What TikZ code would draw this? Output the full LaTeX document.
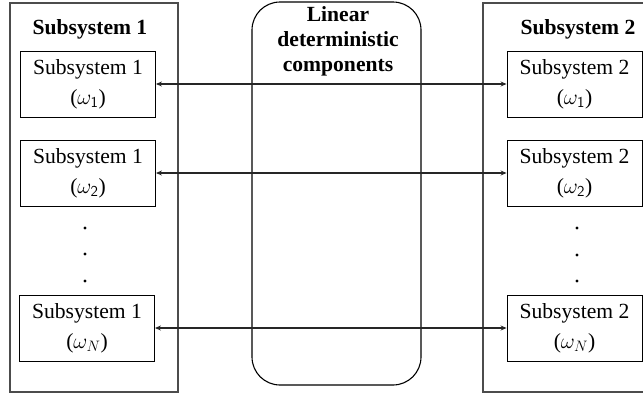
\RequirePackage{fix-cm}
\documentclass[tikz,border=0pt]{standalone}
\usepackage{fontspec}
\setmainfont{Liberation Serif}
\usetikzlibrary{arrows.meta}
\begin{document}
\begin{tikzpicture}[x=1pt,y=-1pt,
  frame/.style={draw=black!70, line width=1.1pt, inner sep=0pt},
  ctr/.style={draw=black, line width=1.1pt, inner sep=0pt, rounded corners=28pt},
  inner/.style={draw=black, line width=0.9pt, minimum width=135pt, minimum height=66pt, align=center, inner sep=0pt, font=\fontsize{21.6}{30}\selectfont},
  ttl/.style={font=\fontsize{21.6}{25}\selectfont\bfseries, align=center},
  link/.style={draw=black!85, line width=1.2pt, {Stealth[length=6pt,width=5pt]}-{Stealth[length=6pt,width=5pt]}},
  dotmark/.style={circle, fill=black, inner sep=0pt, minimum size=3.2pt}]
\useasboundingbox (0,0) rectangle (643,394);
\node[frame, minimum width=168pt, minimum height=389pt] (s1) at (94,197.5) {};
\node[frame, minimum width=167pt, minimum height=389pt] (s2) at (566.5,197.5) {};
\node[ctr, minimum width=169pt, minimum height=383pt] (lin) at (336.5,193.5) {};
\node[ttl] (t1) at (90,29) {Subsystem 1};
\node[ttl] (t2) at (578,29) {Subsystem 2};
\node[ttl] (lt) at (338,41) {Linear\\deterministic\\components};
\node[inner] (a1) at (88,84) {Subsystem 1\\($\omega_{\mathsf{1}}$)};
\node[inner] (a2) at (88,173) {Subsystem 1\\($\omega_{\mathsf{2}}$)};
\node[inner] (aN) at (87,328) {Subsystem 1\\($\omega_{N}$)};
\node[inner] (b1) at (574.5,84) {Subsystem 2\\($\omega_{\mathsf{1}}$)};
\node[inner] (b2) at (574.5,173) {Subsystem 2\\($\omega_{\mathsf{2}}$)};
\node[inner] (bN) at (574.5,328) {Subsystem 2\\($\omega_{N}$)};
\node[dotmark] (da1) at (85,228) {};
\node[dotmark] (da2) at (85,254) {};
\node[dotmark] (da3) at (85,281) {};
\node[dotmark] (db1) at (577,228) {};
\node[dotmark] (db2) at (577,255) {};
\node[dotmark] (db3) at (577,281) {};
\draw[link] (a1.east) -- (b1.west);
\draw[link] (a2.east) -- (b2.west);
\draw[link] (aN.east) -- (bN.west);
\end{tikzpicture}
\end{document}
